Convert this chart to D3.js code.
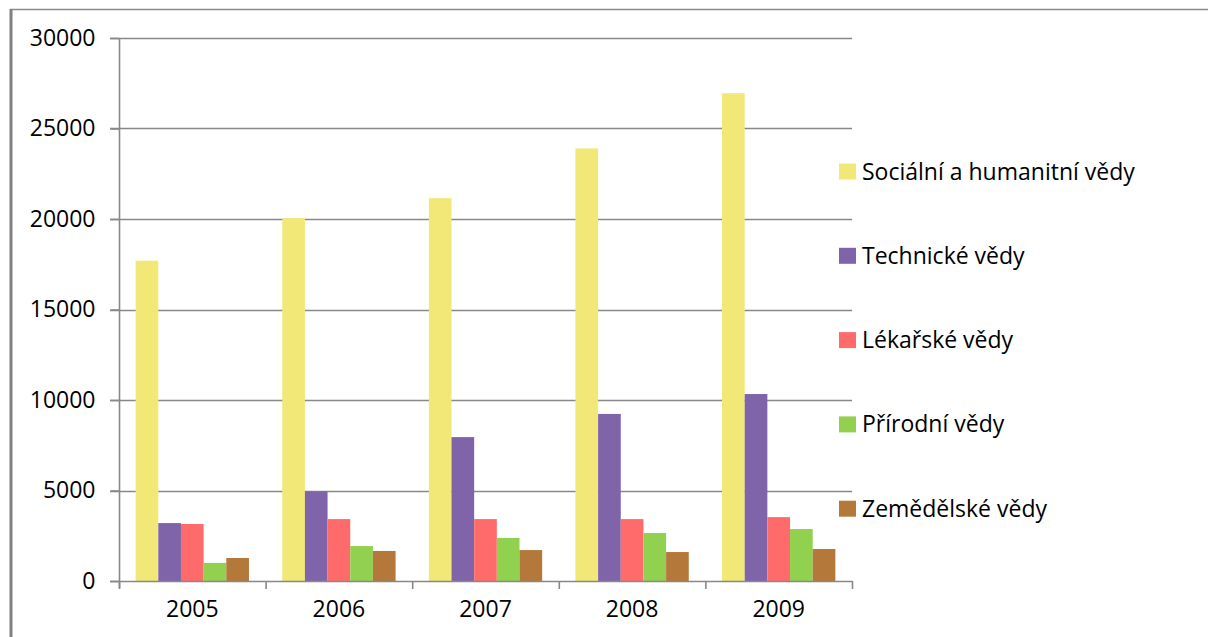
<!DOCTYPE html>
<html>
<head>
<meta charset="utf-8">
<script src="https://cdn.jsdelivr.net/npm/d3@7"></script>
<style>
  html, body { margin: 0; padding: 0; background: #fff; }
  svg { display: block; }
  text { font-family: "Open Sans", "DejaVu Sans", sans-serif; fill: #000; }
</style>
</head>
<body>
<svg id="chart" width="1208" height="637"></svg>
<script>
// Počty studentů podle skupin oborů, 2005–2009
const years = ["2005", "2006", "2007", "2008", "2009"];
const seriesNames = [
  "Sociální a humanitní vědy",
  "Technické vědy",
  "Lékařské vědy",
  "Přírodní vědy",
  "Zemědělské vědy"
];
const socialni   = [17700, 20050, 21150, 23900, 26950];
const technicke  = [3200, 4950, 7950, 9230, 10330];
const lekarske   = [3150, 3420, 3420, 3420, 3530];
const prirodni   = [1000, 1930, 2380, 2650, 2870];
const zemedelske = [1270, 1660, 1710, 1600, 1770];
const yTicks = [0, 5000, 10000, 15000, 20000, 25000, 30000];
const colors = ["#F1E878", "#8064AA", "#FF6B6B", "#92D050", "#B4783B"];

const seriesValues = [socialni, technicke, lekarske, prirodni, zemedelske];

const svg = d3.select("#chart");

// frame
svg.append("line").attr("x1", 10).attr("x2", 1208).attr("y1", 9.5).attr("y2", 9.5)
  .attr("stroke", "#8a8a8a").attr("stroke-width", 1.5);
svg.append("line").attr("x1", 11).attr("x2", 11).attr("y1", 9).attr("y2", 637)
  .attr("stroke", "#808080").attr("stroke-width", 3);

const plotLeft = 119, plotRight = 852, plotTop = 38, plotBottom = 581;

const y = d3.scaleLinear().domain([0, 30000]).range([plotBottom, plotTop]);
const x0 = d3.scaleBand().domain(years).range([plotLeft, plotRight]).padding(0);
const x1 = d3.scaleBand().domain(seriesNames).range([0, x0.bandwidth()])
  .paddingInner(0).paddingOuter(0.734);

// gridlines
svg.append("g").selectAll("line").data(yTicks.filter(d => d > 0)).join("line")
  .attr("x1", plotLeft - 9).attr("x2", plotRight)
  .attr("y1", d => Math.round(y(d)) + 0.5).attr("y2", d => Math.round(y(d)) + 0.5)
  .attr("stroke", "#888").attr("stroke-width", 1.6);

// bars
const groups = svg.append("g").selectAll("g").data(years).join("g")
  .attr("transform", d => `translate(${x0(d)},0)`);
groups.selectAll("rect")
  .data((yr, i) => seriesNames.map((s, k) => ({ s, k, v: seriesValues[k][i] })))
  .join("rect")
  .attr("x", d => x1(d.s))
  .attr("width", x1.bandwidth())
  .attr("y", d => y(d.v))
  .attr("height", d => plotBottom - y(d.v))
  .attr("fill", d => colors[d.k]);

// y axis
const yAxis = d3.axisLeft(y).tickValues(yTicks).tickSize(9).tickPadding(15)
  .tickFormat(d3.format("d"));
const ya = svg.append("g").attr("transform", `translate(${plotLeft + 0.5},0)`).call(yAxis);
ya.select(".domain").remove();
ya.selectAll(".tick line").attr("stroke", "#888").attr("stroke-width", 1.6);
ya.selectAll(".tick text").attr("font-size", 23).attr("font-family", "Open Sans").attr("fill", "#111");
svg.append("line").attr("x1", plotLeft + 0.5).attr("x2", plotLeft + 0.5)
  .attr("y1", plotTop).attr("y2", plotBottom + 7).attr("stroke", "#888").attr("stroke-width", 1.6);

// x axis
svg.append("line").attr("x1", plotLeft - 9).attr("x2", plotRight)
  .attr("y1", plotBottom + 0.5).attr("y2", plotBottom + 0.5).attr("stroke", "#888").attr("stroke-width", 1.6);
const xa = svg.append("g").attr("transform", `translate(0,${plotBottom})`)
  .call(d3.axisBottom(x0).tickSize(0).tickPadding(20));
xa.select(".domain").remove();
xa.selectAll(".tick text").attr("font-size", 23).attr("font-family", "Open Sans").attr("fill", "#111");
svg.append("g").selectAll("line").data(years.concat(["end"])).join("line")
  .attr("x1", d => (d === "end" ? plotRight : x0(d)) + 0.5)
  .attr("x2", d => (d === "end" ? plotRight : x0(d)) + 0.5)
  .attr("y1", plotBottom).attr("y2", plotBottom + 8)
  .attr("stroke", "#888").attr("stroke-width", 1.6);

// legend
const legend = svg.append("g").selectAll("g").data(seriesNames).join("g")
  .attr("transform", (d, i) => `translate(839,${171.5 + i * 84.3})`);
legend.append("rect").attr("x", 0).attr("y", -8).attr("width", 17).attr("height", 16)
  .attr("fill", (d, i) => colors[i]);
legend.append("text").attr("x", 23).attr("y", 8).attr("font-size", 23)
  .attr("fill", "#111").text(d => d);
</script>
</body>
</html>
